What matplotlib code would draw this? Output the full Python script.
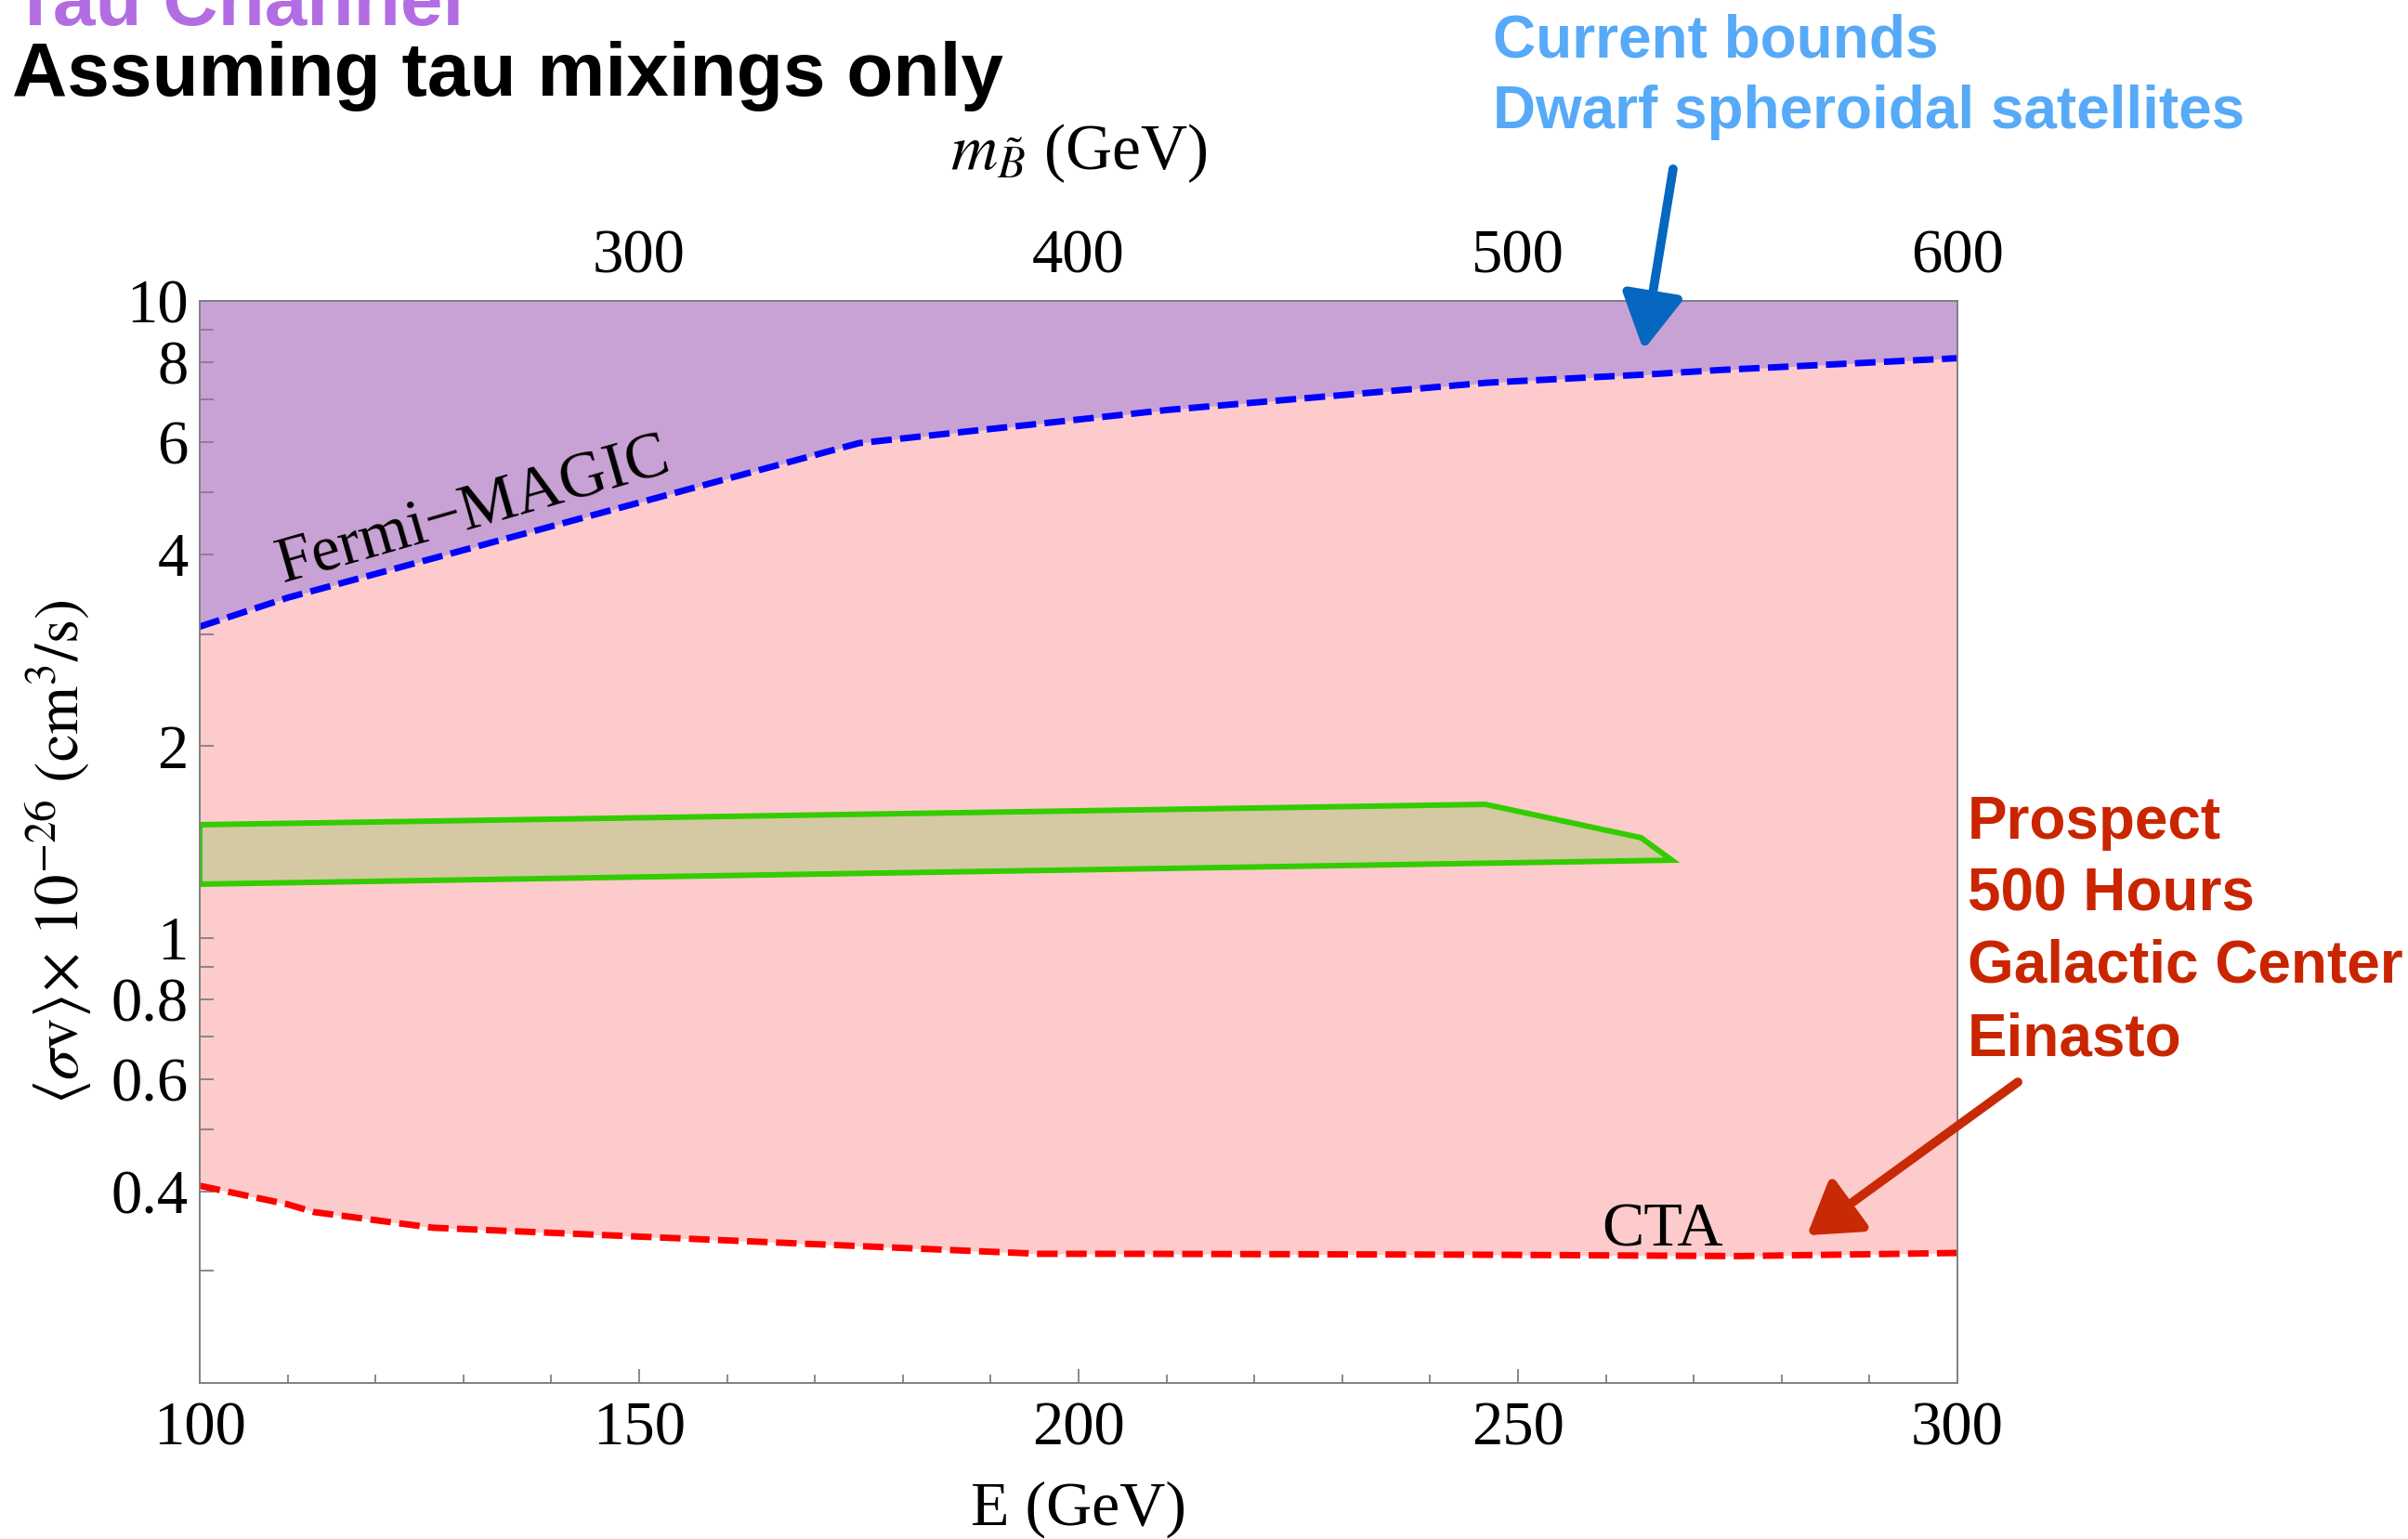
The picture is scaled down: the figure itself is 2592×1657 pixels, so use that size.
import numpy as np
import matplotlib
matplotlib.use('Agg')
from matplotlib import pyplot as plt
from matplotlib.patches import FancyArrowPatch
from matplotlib.ticker import FixedLocator, FixedFormatter, NullLocator

plt.rcParams['font.family'] = ['Liberation Serif', 'DejaVu Serif']
plt.rcParams['mathtext.fontset'] = 'stix'

# E in GeV, <sigma v> in units of 1e-26 cm^3/s
fermi_E  = [100, 110, 175, 210, 246.5, 265, 273, 300]
fermi_sv = [3.08, 3.42, 5.98, 6.74, 7.44, 7.67, 7.79, 8.13]

cta_E  = [100, 110, 113, 126.5, 195.5, 207, 245, 275, 300]
cta_sv = [0.408, 0.3815, 0.371, 0.3506, 0.319, 0.319, 0.318, 0.3164, 0.320]

# region favoured by the fit (closed outline)
band_E  = [100, 246.3, 264, 267.5, 100]
band_sv = [1.505, 1.62, 1.436, 1.324, 1.214]

x_major = [100, 150, 200, 250, 300]
x_minor = [110, 120, 130, 140, 160, 170, 180, 190, 210, 220, 230, 240, 260, 270, 280, 290]
y_ticks = [0.3, 0.4, 0.5, 0.6, 0.7, 0.8, 0.9, 1, 2, 3, 4, 5, 6, 7, 8, 9, 10]
y_labels = ['', '0.4', '', '0.6', '', '0.8', '', '1', '2', '', '4', '', '6', '', '8', '', '10']
mb_ticks = [300, 400, 500, 600]

pink = '#fdcbcb'
purple = '#c9a2d5'
band_fill = '#d4c9a2'
band_edge = '#33cc00'
frame = '#808080'

fig = plt.figure(figsize=(25.92, 16.57), dpi=100)
ax = fig.add_axes([0.08295, 0.10139, 0.72995, 0.70308])

ax.fill_between(cta_E, cta_sv, 10, color=pink, lw=0)
ax.fill_between(fermi_E, fermi_sv, 10, color=purple, lw=0)
ax.fill(band_E, band_sv, facecolor=band_fill, edgecolor=band_edge, lw=4.3, joinstyle='miter')

ax.plot(fermi_E, fermi_sv, color='#0000ff', lw=5, dashes=(3.2, 1.3))
ax.plot(cta_E, cta_sv, color='#ff0000', lw=5, dashes=(3.2, 1.3))

ax.set_yscale('log')
ax.set_xlim(100, 300)
ax.set_ylim(0.2, 10)

ax.xaxis.set_major_locator(FixedLocator(x_major))
ax.xaxis.set_minor_locator(FixedLocator(x_minor))
ax.yaxis.set_major_locator(FixedLocator(y_ticks))
ax.yaxis.set_major_formatter(FixedFormatter(y_labels))
ax.yaxis.set_minor_locator(NullLocator())

ax.tick_params(axis='x', which='major', direction='in', length=10.5, width=1.3,
               color=frame, labelsize=48, pad=14, top=False)
ax.tick_params(axis='x', which='minor', direction='in', length=6.5, width=1.3,
               color=frame, top=False)
ax.tick_params(axis='y', which='major', direction='in', length=10.5, width=1.3,
               color=frame, labelsize=48, pad=9, right=False)
for s in ax.spines.values():
    s.set_color(frame)
    s.set_linewidth(1.4)

# upper axis: bino mass, m = 2E
top = ax.secondary_xaxis('top', functions=(lambda e: 2 * e, lambda m: m / 2))
top.set_xticks(mb_ticks)
top.xaxis.set_minor_locator(NullLocator())
top.tick_params(direction='in', length=10.5, width=1.3, color=frame, labelsize=48, pad=12)
top.spines['top'].set_color(frame)
top.spines['top'].set_linewidth(1.4)

ax.text(0.5, -0.1167, 'E (GeV)', transform=ax.transAxes, ha='center', va='center', fontsize=49)
ax.text(0.5, 1.1365, r'$m_{\tilde{B}}$ (GeV)', transform=ax.transAxes, ha='center', va='center', fontsize=50)
ax.text(-0.0804, 0.491, r'$\langle\sigma\mathrm{v}\rangle\!\times\,10^{-26}\ (\mathrm{cm}^3/\mathrm{s})$',
        transform=ax.transAxes, ha='center', va='center', rotation=90, fontsize=48)

ax.text(131.2, 4.66, 'Fermi\u2212MAGIC', rotation=16, ha='center', va='center',
        rotation_mode='anchor', fontsize=50)
ax.text(266.4, 0.328, 'CTA', ha='center', va='baseline', fontsize=49)

# headings and notes
sans = ['Liberation Sans', 'DejaVu Sans']
fig.text(0.005, 0.9837, 'Tau Channel', color='#b36de3', fontsize=59, weight='bold', family=sans, va='baseline')
fig.text(0.005, 0.9378, 'Assuming tau mixings only', color='black', fontsize=59, weight='bold', family=sans, va='baseline')

blue_txt = '#56aaf7'
fig.text(0.620, 0.9628, 'Current bounds', color=blue_txt, fontsize=46, weight='bold', family=sans, va='baseline')
fig.text(0.620, 0.9167, 'Dwarf spheroidal satellites', color=blue_txt, fontsize=46, weight='bold', family=sans, va='baseline')

red_txt = '#c92500'
for txt, yb in zip(['Prospect', '500 Hours', 'Galactic Center', 'Einasto'],
                   [0.4550, 0.4080, 0.3615, 0.3144]):
    fig.text(0.8171, yb, txt, color=red_txt, fontsize=46, weight='bold', family=sans, va='baseline')

arr_blue = FancyArrowPatch((0.6948, 0.8902), (0.6825, 0.7725), transform=fig.transFigure,
                           arrowstyle='-|>,head_length=36,head_width=20', mutation_scale=1,
                           lw=7, color='#0667c0', shrinkA=0, shrinkB=0)
arr_red = FancyArrowPatch((0.8380, 0.2969), (0.7504, 0.1973), transform=fig.transFigure,
                          arrowstyle='-|>,head_length=33,head_width=21', mutation_scale=1,
                          lw=7, color='#c82a06', shrinkA=0, shrinkB=0)
fig.add_artist(arr_blue)
fig.add_artist(arr_red)

fig.savefig('out.png', dpi=100)
